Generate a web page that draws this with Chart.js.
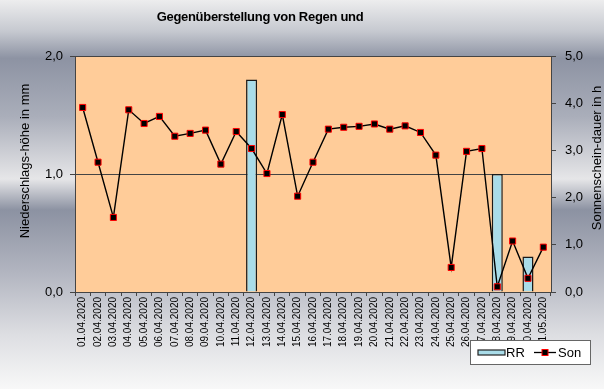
<!DOCTYPE html>
<html><head><meta charset="utf-8">
<script src="https://cdn.jsdelivr.net/npm/chart.js@4.4.0/dist/chart.umd.min.js"></script>
<style>html,body{margin:0;padding:0;background:#fff}#wrap{width:614px;height:389px;position:relative}</style>
</head><body><div id="wrap"><canvas id="c" width="614" height="389"></canvas></div>
<script>
const categories = ['01.04.2020','02.04.2020','03.04.2020','04.04.2020','05.04.2020','06.04.2020','07.04.2020','08.04.2020','09.04.2020','10.04.2020','11.04.2020','12.04.2020','13.04.2020','14.04.2020','15.04.2020','16.04.2020','17.04.2020','18.04.2020','19.04.2020','20.04.2020','21.04.2020','22.04.2020','23.04.2020','24.04.2020','25.04.2020','26.04.2020','27.04.2020','28.04.2020','29.04.2020','30.04.2020','01.05.2020'];
const rainMM = [null,null,null,null,null,null,null,null,null,null,null,1.8,null,null,null,null,null,null,null,null,null,null,null,null,null,null,null,1.0,null,0.3,null];
const sunHours = [3.91,2.75,1.58,3.86,3.57,3.72,3.30,3.36,3.43,2.71,3.40,3.04,2.51,3.76,2.03,2.75,3.45,3.49,3.51,3.56,3.45,3.52,3.38,2.90,0.52,2.98,3.04,0.11,1.08,0.29,0.95];
const seriesNames = ['RR','Son'];
const chartTitle = 'Gegenüberstellung von Regen und';
const leftAxisTitle = 'Niederschlags-höhe in mm';
const rightAxisTitle = 'Sonnenschein-dauer in h';

const FONT = '"Liberation Sans", Arial, sans-serif';
const BAR_FILL = '#a9dce9';
const PEACH = '#ffcc99';
const fmt = v => Number(v).toFixed(1).replace('.', ',');

const decor = {
  id: 'decor',
  beforeDraw(chart) {
    const ctx = chart.ctx;
    ctx.save();
    ctx.fillStyle = '#ffffff';
    ctx.fillRect(0, 0, chart.width, chart.height);
    const g = ctx.createLinearGradient(0, 0, 0, chart.height);
    g.addColorStop(0.00, '#ededee');
    g.addColorStop(0.08, '#c6c9d0');
    g.addColorStop(0.15, '#8d93a3');
    g.addColorStop(0.30, '#aaaeba');
    g.addColorStop(0.46, '#e6e6e8');
    g.addColorStop(0.54, '#8c92a2');
    g.addColorStop(0.70, '#b2b5c0');
    g.addColorStop(0.86, '#dddee2');
    g.addColorStop(1.00, '#f8f8f8');
    ctx.fillStyle = g;
    ctx.fillRect(0, 0, 604, chart.height);
    const a = chart.chartArea;
    ctx.fillStyle = PEACH;
    ctx.fillRect(a.left, a.top, a.right - a.left, a.bottom - a.top);
    // title
    ctx.fillStyle = '#000';
    ctx.font = 'bold 13px ' + FONT;
    ctx.textAlign = 'center';
    ctx.textBaseline = 'middle';
    try { ctx.letterSpacing = '-0.3px'; } catch (e) {}
    ctx.fillText(chartTitle, 260, 17);
    try { ctx.letterSpacing = '0px'; } catch (e) {}
    // axis titles
    ctx.font = '13px ' + FONT;
    ctx.save();
    ctx.translate(25, 161);
    ctx.rotate(-Math.PI / 2);
    ctx.fillText(leftAxisTitle, 0, 0);
    ctx.restore();
    ctx.save();
    ctx.translate(597, 158);
    ctx.rotate(-Math.PI / 2);
    ctx.fillText(rightAxisTitle, 0, 0);
    ctx.restore();
    ctx.restore();
  },
  afterDraw(chart) {
    const ctx = chart.ctx;
    ctx.save();
    // legend box
    const bx = 470.5, by = 340.5, bw = 120, bh = 24;
    ctx.fillStyle = '#ffffff';
    ctx.fillRect(bx, by, bw, bh);
    ctx.strokeStyle = '#666';
    ctx.lineWidth = 1;
    ctx.strokeRect(bx, by, bw, bh);
    // bar swatch
    ctx.fillStyle = BAR_FILL;
    ctx.fillRect(478, 350, 27, 5);
    ctx.strokeStyle = '#222';
    ctx.lineWidth = 1.2;
    ctx.strokeRect(478, 350, 27, 5);
    ctx.fillStyle = '#000';
    ctx.font = '13px ' + FONT;
    ctx.textAlign = 'left';
    ctx.textBaseline = 'middle';
    ctx.fillText(seriesNames[0], 506, 353);
    // line swatch
    ctx.strokeStyle = '#000';
    ctx.lineWidth = 1.3;
    ctx.beginPath();
    ctx.moveTo(534, 352.5);
    ctx.lineTo(556, 352.5);
    ctx.stroke();
    ctx.fillStyle = '#000';
    ctx.fillRect(542, 349.5, 6, 6);
    ctx.strokeStyle = '#ff0000';
    ctx.lineWidth = 1;
    ctx.strokeRect(542, 349.5, 6, 6);
    ctx.fillStyle = '#000';
    ctx.fillText(seriesNames[1], 558, 353);
    ctx.restore();
  }
};

new Chart(document.getElementById('c'), {
  data: {
    labels: categories,
    datasets: [
      {
        type: 'line', label: seriesNames[1], data: sunHours, yAxisID: 'y1', order: 0,
        borderColor: '#000', borderWidth: 1.4, tension: 0,
        pointStyle: 'rect', pointRadius: 4.3, pointBackgroundColor: '#000',
        pointBorderColor: '#ff0000', pointBorderWidth: 1
      },
      {
        type: 'bar', label: seriesNames[0], data: rainMM, yAxisID: 'y', order: 1,
        backgroundColor: BAR_FILL, borderColor: '#1a1a1a', borderWidth: 1.5,
        barPercentage: 0.72, categoryPercentage: 1
      }
    ]
  },
  options: {
    responsive: false,
    animation: false,
    devicePixelRatio: 1,
    layout: { padding: { top: 56, left: 0, right: 0, bottom: 0 } },
    plugins: { legend: { display: false }, title: { display: false }, tooltip: { enabled: false } },
    scales: {
      x: {
        type: 'category', offset: true,
        grid: { offset: true, drawOnChartArea: false, drawTicks: true, tickLength: 4, color: '#444' },
        border: { display: true, color: '#444', width: 1 },
        ticks: { autoSkip: false, minRotation: 90, maxRotation: 90, padding: 1, color: '#000', font: { family: FONT, size: 10 } },
        afterFit: s => { s.height = 97; }
      },
      y: {
        position: 'left', min: 0, max: 2,
        grid: { color: '#444', lineWidth: 1, drawTicks: true, tickLength: 5 },
        border: { display: true, color: '#444' },
        ticks: { stepSize: 1, padding: 7, color: '#000', font: { family: FONT, size: 13 }, callback: v => fmt(v) },
        afterFit: s => { s.width = 75; }
      },
      y1: {
        position: 'right', min: 0, max: 5,
        grid: { drawOnChartArea: false, drawTicks: true, tickLength: 5, color: '#444' },
        border: { display: true, color: '#444' },
        ticks: { stepSize: 1, padding: 9, color: '#000', font: { family: FONT, size: 13 }, callback: v => fmt(v) },
        afterFit: s => { s.width = 63; }
      }
    }
  },
  plugins: [decor]
});
</script>
</body></html>
